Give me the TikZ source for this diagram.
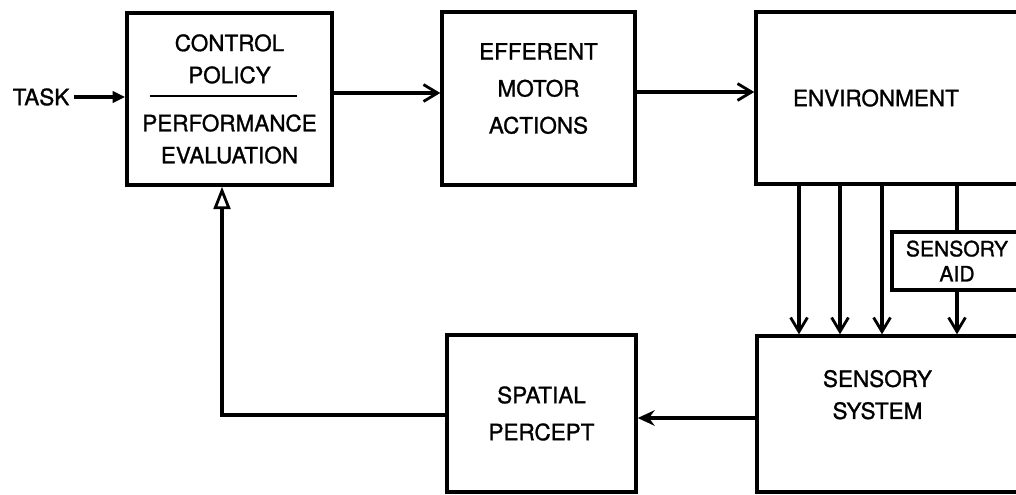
\documentclass[tikz,border=0pt]{standalone}
\usepackage{fontspec}
\setmainfont{TeX Gyre Heros}[FakeBold=1.2]
\usetikzlibrary{arrows.meta, positioning}

\begin{document}
\begin{tikzpicture}[x=0.025cm, y=-0.025cm,
  block/.style={rectangle, draw, line width=2.4pt, inner sep=0pt, align=center, font=\fontsize{16}{22.8}\selectfont},
  line/.style={draw, line width=2.6pt},
  barb/.style={line, -{Straight Barb[length=10pt, width=12pt, line width=2pt]}},
  tasktip/.style={line, -{Triangle[length=9pt, width=8pt]}},
  hollow/.style={line, -{Triangle[open, length=16pt, width=12pt, line width=2pt]}},
  darrow/.style={line, -{Stealth[length=12pt, width=11pt]}}
]
  \useasboundingbox (0,0) rectangle (1016,494);
  \clip (0,0) rectangle (1016,494);

  \node[block, minimum width=5.125cm, minimum height=4.3cm] (ctrl) at (229.5,99)
    {CONTROL\\POLICY\\[11.4pt]PERFORMANCE\\EVALUATION};
  \node[block, minimum width=4.825cm, minimum height=4.325cm] (eff) at (538.5,98.5)
    {\begin{tabular}{@{}c@{}}EFFERENT\\[3.5pt]MOTOR\\[3.5pt]ACTIONS\\[0.42cm]\end{tabular}};
  \node[block, minimum width=7.5cm, minimum height=4.3cm, text width=5.65cm, align=left] (env) at (906,98)
    {ENVIRONMENT};
  \node[block, minimum width=3.25cm, minimum height=1.45cm, font=\fontsize{15}{17.8}\selectfont] (aid) at (957,261)
    {SENSORY\\AID};
  \node[block, minimum width=7.5cm, minimum height=3.9cm, text width=4.2cm, align=left] (sens) at (907,414)
    {\begin{tabular}{@{}c@{}}SENSORY\\SYSTEM\\[0.875cm]\end{tabular}};
  \node[block, minimum width=4.725cm, minimum height=3.925cm] (spat) at (541.5,413.5)
    {SPATIAL\\[3.5pt]PERCEPT};
  \node[font=\fontsize{16}{22.8}\selectfont] (task) at (41,97) {TASK};

  % divider in the control box
  \draw[line width=2pt] (150,96) -- (297,96);

  \path[tasktip] (task) -- (ctrl.west |- task);
  \path[barb] (ctrl.east |- 0,93) -- (eff.west |- 0,93);
  \path[barb] (eff.east |- 0,92) -- (env.west |- 0,92);
  \foreach \x in {799,840,882}
    \path[barb] (env.south -| \x,0) -- (sens.north -| \x,0);
  \path[line] (env.south -| aid.north) -- (aid.north);
  \path[barb] (aid.south) -- (sens.north -| aid.south);
  \path[darrow] (sens.west |- 0,418) -- (spat.east |- 0,418);
  \path[hollow] (spat.west |- 0,415) -| (ctrl.south -| 222,0);
\end{tikzpicture}
\end{document}
